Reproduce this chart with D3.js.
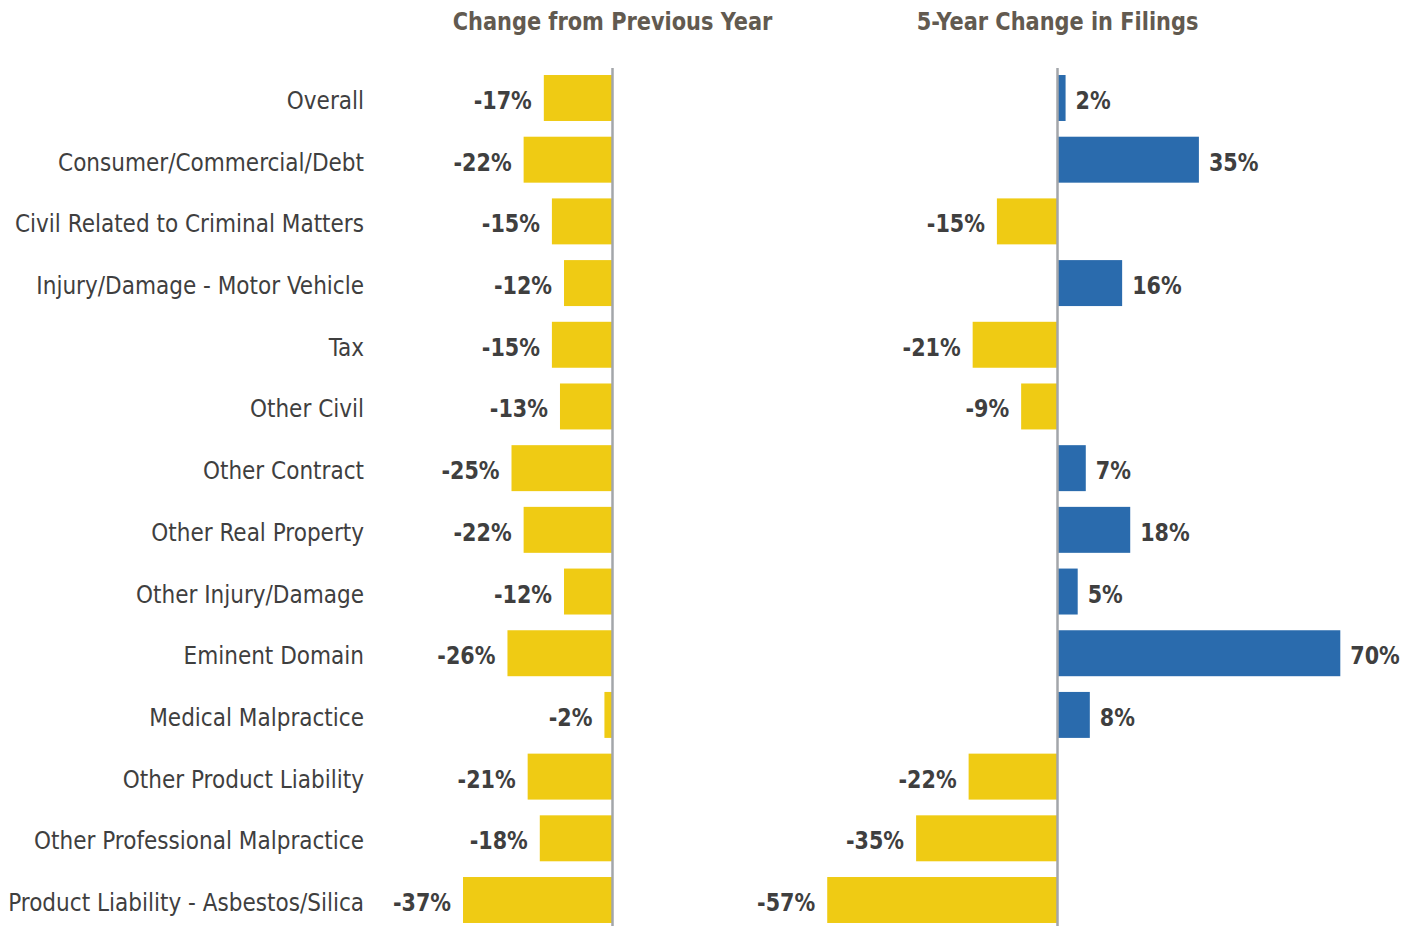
<html>
<head>
<script src="https://d3js.org/d3.v7.min.js"></script>
<style>
  body { margin: 0; background: #fff; }
  svg text { font-family: "DejaVu Sans Condensed", "Liberation Sans Narrow", Roboto, sans-serif; }
  .cat { fill: #3f3f3f; font-size: 25px; text-anchor: end; }
  .val { fill: #3f3f3f; font-size: 25px; font-weight: bold; }
  .title { fill: #625a50; font-size: 25px; font-weight: bold; text-anchor: middle; }
</style>
</head>
<body>
<script>
// categories, top to bottom
var categories = ["Overall", "Consumer/Commercial/Debt", "Civil Related to Criminal Matters",
  "Injury/Damage - Motor Vehicle", "Tax", "Other Civil", "Other Contract", "Other Real Property",
  "Other Injury/Damage", "Eminent Domain", "Medical Malpractice", "Other Product Liability",
  "Other Professional Malpractice", "Product Liability - Asbestos/Silica"];

var prevYear = [-17, -22, -15, -12, -15, -13, -25, -22, -12, -26, -2, -21, -18, -37];
var fiveYear = [2, 35, -15, 16, -21, -9, 7, 18, 5, 70, 8, -22, -35, -57];

var titles = ["Change from Previous Year", "5-Year Change in Filings"];

var width = 1415, height = 926;
var pxPerPct = 4.04;
var yellow = "#efcb14", blue = "#2a6bad";

var svg = d3.select("body").append("svg")
  .attr("width", width)
  .attr("height", height);

var y = d3.scaleBand()
  .domain(categories)
  .range([67, 931])
  .paddingInner(0.255)
  .paddingOuter(0.13);

// category labels (squeezed to look like the condensed face of the original)
var cats = svg.selectAll(".cat")
  .data(categories)
  .enter().append("text")
  .attr("class", "cat")
  .attr("dy", "0.36em")
  .text(function(d) { return d; });

var maxW = d3.max(cats.nodes(), function(n) { return n.getComputedTextLength(); });
var catScale = 356 / maxW;
cats.attr("transform", function(d) {
  return "translate(364," + (y(d) + y.bandwidth() / 2 + 2) + ") scale(" + catScale + ",1)";
});

function panel(values, zero, title) {
  var x = d3.scaleLinear()
    .domain([-60, 80])
    .range([zero - 60 * pxPerPct, zero + 80 * pxPerPct]);

  var g = svg.append("g");

  g.append("text")
    .attr("class", "title")
    .attr("transform", "translate(" + x(0) + ",30) scale(0.93,1)")
    .text(title);

  g.selectAll("rect")
    .data(values)
    .enter().append("rect")
    .attr("x", function(d) { return d < 0 ? x(d) : x(0); })
    .attr("y", function(d, i) { return y(categories[i]); })
    .attr("width", function(d) { return Math.abs(x(d) - x(0)); })
    .attr("height", y.bandwidth())
    .attr("fill", function(d) { return d < 0 ? yellow : blue; });

  g.selectAll(".val")
    .data(values)
    .enter().append("text")
    .attr("class", "val")
    .attr("transform", function(d, i) {
      var tx = d < 0 ? x(d) - 12 : x(d) + 10;
      var ty = y(categories[i]) + y.bandwidth() / 2 + 2;
      return "translate(" + tx + "," + ty + ") scale(0.92,1)";
    })
    .attr("dy", "0.36em")
    .attr("text-anchor", function(d) { return d < 0 ? "end" : "start"; })
    .text(function(d) { return d + "%"; });

  // zero line
  g.append("line")
    .attr("x1", x(0)).attr("x2", x(0))
    .attr("y1", 68).attr("y2", height)
    .attr("stroke", "#a3a6aa")
    .attr("stroke-width", 2.5);
}

panel(prevYear, 612.5, titles[0]);
panel(fiveYear, 1057.5, titles[1]);
</script>
</body>
</html>
